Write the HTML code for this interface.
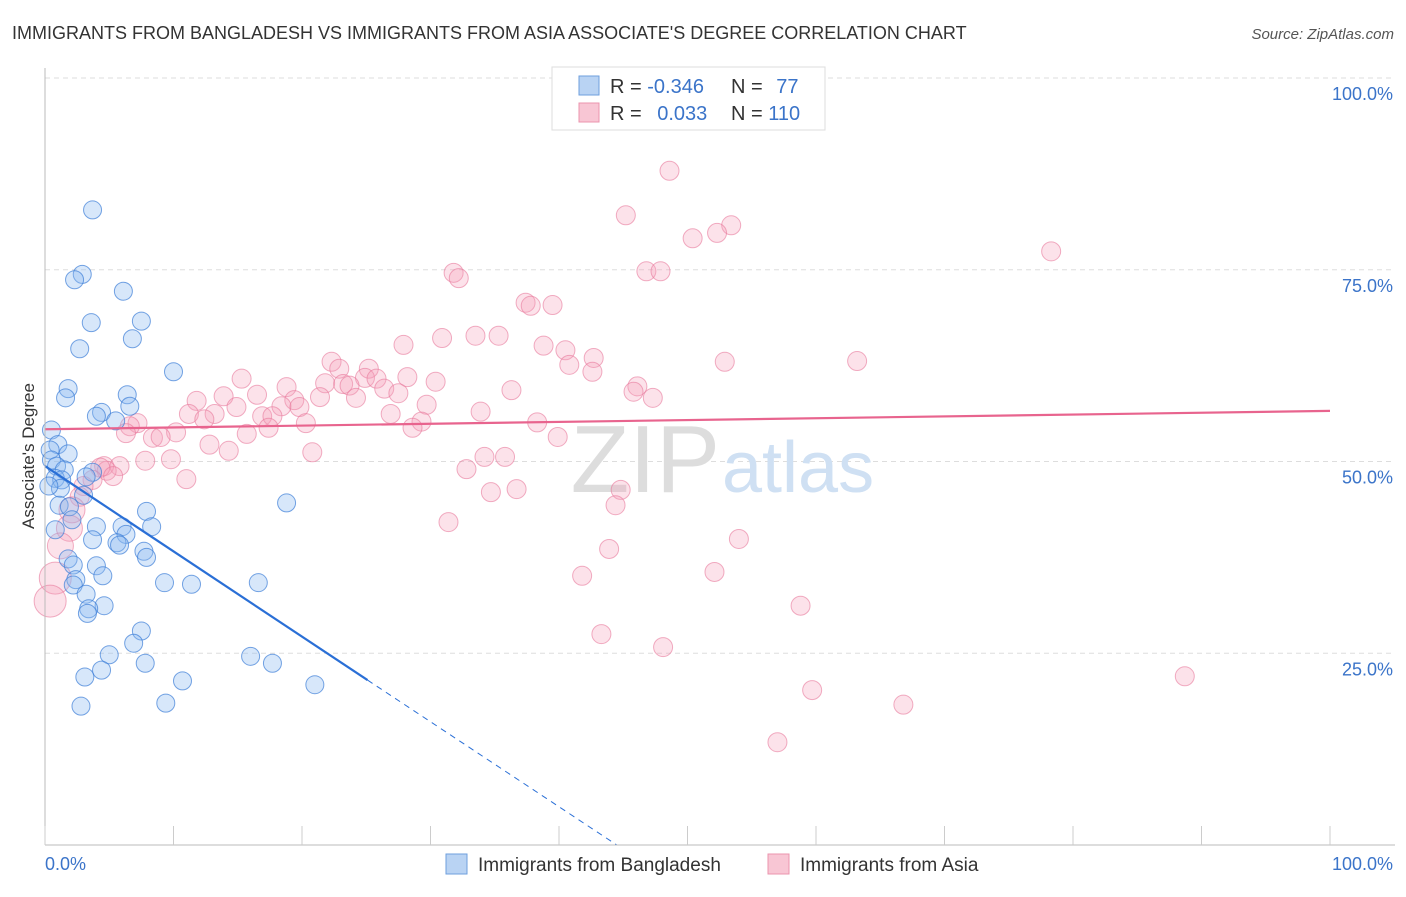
<!DOCTYPE html>
<html><head><meta charset="utf-8">
<style>
body{margin:0;background:#fff;font-family:"Liberation Sans",sans-serif;}
svg text{font-family:"Liberation Sans",sans-serif;}
</style></head>
<body>
<svg id="chart" width="1406" height="892" viewBox="0 0 1406 892" xmlns="http://www.w3.org/2000/svg">
<text x="12" y="39" font-size="18" fill="#333">IMMIGRANTS FROM BANGLADESH VS IMMIGRANTS FROM ASIA ASSOCIATE'S DEGREE CORRELATION CHART</text>
<text x="1394" y="39" font-size="15" fill="#555" text-anchor="end" font-style="italic">Source: ZipAtlas.com</text>
<g id="grid"></g>
<text x="720" y="492" font-size="96" fill="#ddd" text-anchor="end" font-family="Liberation Serif">ZIP</text>
<text x="722" y="492" font-size="72" fill="#cfe0f3">atlas</text>
<g id="pts"></g>
<g id="axes"></g>
<text x="34" y="456" font-size="17" fill="#333" text-anchor="middle" transform="rotate(-90 34 456)">Associate's Degree</text>
<g>
<rect x="552" y="67" width="273" height="63" fill="#fff" stroke="#ddd"/>
<rect x="579" y="76" width="20" height="19" fill="#b9d3f3" stroke="#6e9fde"/>
<rect x="579" y="103" width="20" height="19" fill="#f8c6d4" stroke="#eb94ae"/>
<text x="610" y="93" font-size="20" fill="#333">R = <tspan fill="#3b74c9">-0.346</tspan></text>
<text x="731" y="93" font-size="20" fill="#333">N = <tspan fill="#3b74c9" dx="8">77</tspan></text>
<text x="610" y="120" font-size="20" fill="#333">R = <tspan fill="#3b74c9" dx="10">0.033</tspan></text>
<text x="731" y="120" font-size="20" fill="#333">N = <tspan fill="#3b74c9">110</tspan></text>
</g>
<g>
<rect x="446" y="854" width="21" height="20" fill="#b9d3f3" stroke="#6e9fde"/>
<text x="478" y="871" font-size="19" fill="#333">Immigrants from Bangladesh</text>
<rect x="768" y="854" width="21" height="20" fill="#f8c6d4" stroke="#eb94ae"/>
<text x="800" y="871" font-size="19" fill="#333">Immigrants from Asia</text>
</g>
</svg>
<script>
const yTicks=[25,50,75,100];
const yTickLabels=["25.0%","50.0%","75.0%","100.0%"];
const xTickLabels=["0.0%","100.0%"];
const blueX=[3.7,2.9,2.3,6.1,3.6,7.5,6.8,2.7,10.0,1.8,1.6,6.4,6.6,4.4,4.0,5.5,0.5,1.0,0.4,1.8,0.5,0.9,1.5,3.7,3.2,0.8,1.3,1.2,0.3,3.0,1.1,1.9,7.9,18.8,2.1,4.0,8.3,0.8,6.0,6.3,3.7,5.6,5.8,7.7,7.9,1.8,2.2,4.0,4.5,2.4,9.3,11.4,16.6,2.2,3.2,4.6,3.4,3.3,7.5,6.9,5.0,16.0,7.8,17.7,4.4,3.1,10.7,21.0,2.8,9.4];
const blueY=[82.8,74.4,73.7,72.2,68.1,68.3,66.0,64.7,61.7,59.5,58.3,58.7,57.2,56.4,55.9,55.3,54.1,52.2,51.5,51.0,50.2,49.4,48.9,48.6,48.0,47.8,47.6,46.5,46.8,45.6,44.3,44.1,43.5,44.6,42.4,41.5,41.5,41.1,41.5,40.5,39.8,39.4,39.1,38.3,37.5,37.3,36.5,36.4,35.1,34.6,34.2,34.0,34.2,33.9,32.7,31.2,30.8,30.2,27.9,26.3,24.8,24.6,23.7,23.7,22.8,21.9,21.4,20.9,18.1,18.5];
const pinkX=[48.6,45.2,53.4,52.3,50.4,78.3,31.8,32.2,46.8,47.9,37.4,37.8,39.5,30.9,33.5,35.3,27.9,38.8,40.5,42.7,40.8,42.6,52.9,63.2,22.3,22.9,25.2,15.3,24.9,25.8,28.2,30.4,21.8,18.8,23.2,23.7,36.3,46.1,45.8,26.4,27.5,16.5,13.9,21.4,24.2,19.4,47.3,11.8,18.4,19.8,14.9,29.7,11.2,13.2,33.9,26.9,16.9,17.7,12.4,29.3,38.3,20.3,28.6,7.2,6.6,17.4,6.3,10.2,8.4,9.0,15.7,39.9,12.8,14.3,20.8,9.8,7.8,34.2,35.8,32.8,4.6,5.8,4.8,4.3,5.3,3.7,11.0,3.0,36.7,34.7,44.8,2.7,44.4,2.1,31.4,1.9,54.0,43.9,1.2,52.1,41.8,0.8,58.8,0.4,43.3,48.1,88.7,59.7,66.8,57.0];
const pinkY=[87.9,82.1,80.8,79.8,79.1,77.4,74.6,73.9,74.8,74.8,70.7,70.3,70.4,66.1,66.4,66.4,65.2,65.1,64.5,63.5,62.6,61.7,63.0,63.1,63.0,62.1,62.1,60.8,60.9,60.8,61.0,60.4,60.2,59.7,60.1,59.9,59.3,59.8,59.1,59.5,58.9,58.7,58.5,58.4,58.3,58.0,58.3,57.9,57.2,57.1,57.1,57.4,56.2,56.2,56.5,56.2,55.9,55.9,55.5,55.2,55.1,55.0,54.4,55.0,54.6,54.4,53.7,53.8,53.1,53.2,53.6,53.2,52.2,51.4,51.2,50.3,50.1,50.6,50.6,49.0,49.4,49.4,48.8,49.2,48.1,47.6,47.7,46.8,46.4,46.0,46.3,45.4,44.3,43.7,42.1,41.3,39.9,38.6,39.0,35.6,35.1,34.8,31.2,31.8,27.5,25.8,22.0,20.2,18.3,13.4];
const pinkBig=[93,95,98,101,103];
const blueTrend=[0,49.4,25.1,21.5,44.5,0];
const pinkTrend=[0,54.2,100,56.6];
const X0=45,X1=1330,YB=845,YT=78;
const sx=v=>X0+(X1-X0)*v/100;
const sy=v=>YB-(YB-YT)*v/100;
const NS="http://www.w3.org/2000/svg";
function mk(tag,attrs,parent){const e=document.createElementNS(NS,tag);for(const k in attrs)e.setAttribute(k,attrs[k]);parent.appendChild(e);return e;}
const grid=document.getElementById('grid'),axes=document.getElementById('axes'),pts=document.getElementById('pts');
yTicks.forEach((t,i)=>{
 const l=mk('line',{x1:X0,x2:1395,y1:sy(t),y2:sy(t),stroke:'#ddd','stroke-dasharray':'5,4'},grid);
 
 
 const tx=mk('text',{x:1393,y:sy(t)+22,'font-size':18,fill:'#3b74c9','text-anchor':'end'},axes);
 tx.textContent=yTickLabels[i];
 
 
});
const ax=mk('line',{x1:X0,x2:X0,y1:68,y2:YB,stroke:'#bbb'},axes);


const bx=mk('line',{x1:X0,x2:1395,y1:YB,y2:YB,stroke:'#bbb'},axes);


for(let i=0;i<=10;i++){
 const t=mk('line',{x1:sx(i*10),x2:sx(i*10),y1:826,y2:YB,stroke:'#ccc'},axes);
 
 
}
[[0,'start',45],[1,'end',1393]].forEach(([i,a,x])=>{
 const t=mk('text',{x:x,y:870,'font-size':18,fill:'#3b74c9','text-anchor':a},axes);
 t.textContent=xTickLabels[i];
 
 
});
pinkX.forEach((v,i)=>{
 const r=pinkBig.includes(i)?(i>=101?16:13):9.5;
 const c=mk('circle',{cx:sx(v),cy:sy(pinkY[i]),r:r,fill:'rgba(244,160,187,0.3)',stroke:'rgba(232,120,155,0.6)','stroke-width':1},pts);
 
 
});
blueX.forEach((v,i)=>{
 const c=mk('circle',{cx:sx(v),cy:sy(blueY[i]),r:9,fill:'rgba(140,185,240,0.35)',stroke:'rgba(60,125,215,0.7)','stroke-width':1},pts);
 
 
});
const bl=mk('line',{x1:sx(blueTrend[0]),y1:sy(blueTrend[1]),x2:sx(blueTrend[2]),y2:sy(blueTrend[3]),stroke:'#2a6fd6','stroke-width':2.2},pts);


const bd=mk('line',{x1:sx(blueTrend[2]),y1:sy(blueTrend[3]),x2:sx(blueTrend[4]),y2:sy(blueTrend[5]),stroke:'#2a6fd6','stroke-width':1,'stroke-dasharray':'6,5'},pts);


const pl=mk('line',{x1:sx(pinkTrend[0]),y1:sy(pinkTrend[1]),x2:sx(pinkTrend[2]),y2:sy(pinkTrend[3]),stroke:'#e8648e','stroke-width':2.2},pts);


</script>
</body></html>
